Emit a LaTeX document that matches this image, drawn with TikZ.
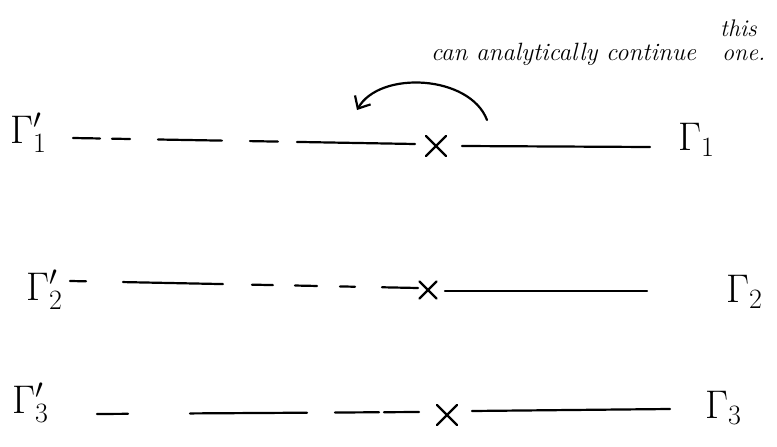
\RequirePackage{fix-cm}
\documentclass[tikz,border=0pt]{standalone}
\usetikzlibrary{arrows.meta,shapes.misc}
\begin{document}
\begin{tikzpicture}[x=1pt,y=-1pt,
  stroke/.style={line width=2.2pt, line cap=round, black},
  glabel/.style={inner sep=0pt, anchor=base west, font=\fontsize{40}{44}\selectfont},
  crossmark/.style={cross out, draw, line width=2.2pt, line cap=round, minimum size=#1, inner sep=0pt},
  note/.style={inner sep=0pt, anchor=base west, font=\itshape\fontsize{25}{27}\selectfont},
  smallnote/.style={inner sep=0pt, anchor=base west, font=\itshape\fontsize{24}{26}\selectfont}]
\useasboundingbox (0,0) rectangle (777,447);

% annotation
\node[note] (n1) at (431,60) {can analytically continue};
\node[smallnote] (n2) at (720,36) {this};
\node[smallnote] (n3) at (722,60) {one.};
\coordinate (arcS) at (487,120);
\coordinate (arcE) at (357,110);
\draw[stroke, -{Straight Barb[length=10pt,width=18pt,line width=2.2pt]}]
  (arcS) .. controls (470,75) and (380,70) .. (arcE);

% row 1
\node[glabel] (g1p) at (10,143) {$\Gamma'_1$};
\coordinate (d1s) at (73,138);
\coordinate (d1e) at (415,144);
\node[crossmark=18pt] (x1) at (436,146) {};
\coordinate (s1s) at (462,146);
\coordinate (s1e) at (650,147);
\node[glabel] (g1) at (678,150) {$\Gamma_1$};
\draw[stroke, dash pattern=on 27pt off 12pt on 18pt off 28pt on 64pt off 28pt on 28pt off 19pt on 200pt] (d1s) -- (d1e);
\draw[stroke] (s1s) -- (s1e);

% row 2
\node[glabel] (g2p) at (26,300) {$\Gamma'_2$};
\coordinate (d2s) at (70,281);
\coordinate (d2e) at (418,288);
\node[crossmark=15pt] (x2) at (428,290) {};
\coordinate (s2s) at (445,291);
\coordinate (s2e) at (647,291);
\node[glabel] (g2) at (726,302) {$\Gamma_2$};
\draw[stroke, dash pattern=on 16pt off 37pt on 100pt off 29pt on 21pt off 22pt on 22pt off 23pt on 15pt off 27pt on 100pt] (d2s) -- (d2e);
\draw[stroke] (s2s) -- (s2e);

% row 3
\node[glabel] (g3p) at (12,413) {$\Gamma'_3$};
\coordinate (d3s) at (97,414);
\coordinate (d3e) at (419,412);
\node[crossmark=18pt] (x3) at (447,415) {};
\coordinate (s3s) at (472,411);
\coordinate (s3e) at (670,409);
\node[glabel] (g3) at (705,418) {$\Gamma_3$};
\draw[stroke, dash pattern=on 31pt off 62pt on 117pt off 28pt on 44pt off 5pt on 100pt] (d3s) -- (d3e);
\draw[stroke] (s3s) -- (s3e);
\end{tikzpicture}
\end{document}
